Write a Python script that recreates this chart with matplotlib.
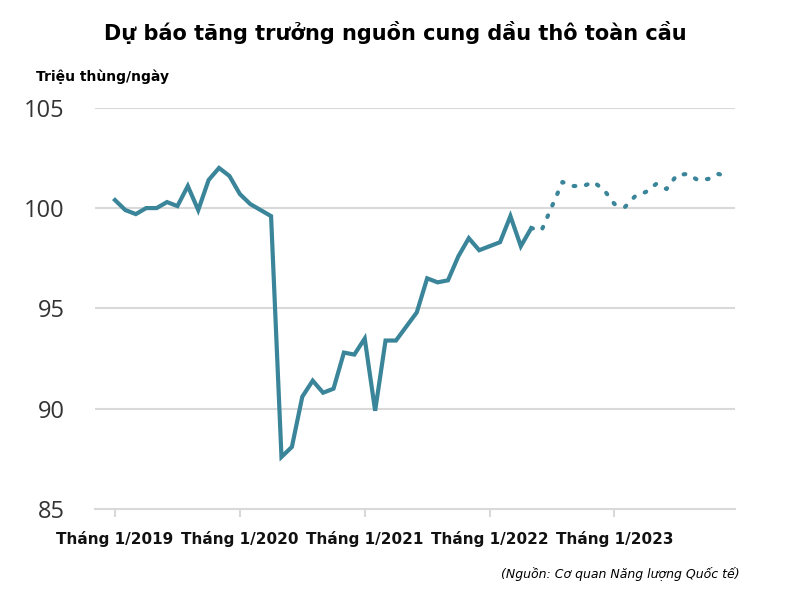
import matplotlib.pyplot as plt

actual = [100.4, 99.9, 99.7, 100.0, 100.0, 100.3, 100.1, 101.1, 99.9, 101.4, 102.0, 101.6,
          100.7, 100.2, 99.9, 99.6, 87.6, 88.1, 90.6, 91.4, 90.8, 91.0, 92.8, 92.7,
          93.5, 89.9, 93.4, 93.4, 94.1, 94.8, 96.5, 96.3, 96.4, 97.6, 98.5, 97.9,
          98.1, 98.3, 99.6, 98.1, 99.0]
forecast = [99.0, 98.9, 100.1, 101.3, 101.1, 101.1, 101.3, 100.9, 100.2, 100.05, 100.6, 100.8,
            101.2, 100.95, 101.65, 101.7, 101.4, 101.45, 101.7, 101.55]
tick_pos = [0, 12, 24, 36, 48]
tick_labels = ["Tháng 1/2019", "Tháng 1/2020", "Tháng 1/2021", "Tháng 1/2022", "Tháng 1/2023"]
yticks = [85, 90, 95, 100, 105]

color = "#3a8599"
fig = plt.figure(figsize=(8, 5.92), dpi=100)
ax = fig.add_axes([0.119, 0.140, 0.80, 0.678])
ax.plot(range(len(actual)), actual, color=color, lw=3, solid_joinstyle='miter')
ax.plot(range(len(actual) - 1, len(actual) - 1 + len(forecast)), forecast, color=color,
        lw=3, linestyle=(0, (0.4, 2.6)), dash_capstyle='round')
ax.set_xlim(-1.9, 59.6)
ax.set_ylim(85, 105)
ax.set_yticks(yticks)
ax.set_yticklabels([str(v) for v in yticks], fontsize=17, color="#333333", family="Open Sans")
for y in yticks[1:]:
    ax.axhline(y, color="#d9d9d9", lw=1.5, zorder=0)
ax.set_xticks(tick_pos)
ax.set_xticklabels(tick_labels, fontsize=11, fontweight='bold', color="#111111")
for s in ["top", "right", "left"]:
    ax.spines[s].set_visible(False)
ax.spines["bottom"].set_color("#d9d9d9")
ax.spines["bottom"].set_linewidth(1.5)
ax.tick_params(axis='y', length=0, pad=22)
ax.tick_params(axis='x', length=6, color="#d9d9d9", width=1.5, pad=10)
fig.text(0.13, 0.965, "Dự báo tăng trưởng nguồn cung dầu thô toàn cầu", fontsize=15,
         fontweight='bold', va='top', ha='left')
fig.text(0.045, 0.87, "Triệu thùng/ngày", fontsize=10, fontweight='bold', va='center')
fig.text(0.925, 0.03, "(Nguồn: Cơ quan Năng lượng Quốc tế)", fontsize=9, style='italic',
         ha='right', va='center')
fig.savefig("out.png", dpi=100)
